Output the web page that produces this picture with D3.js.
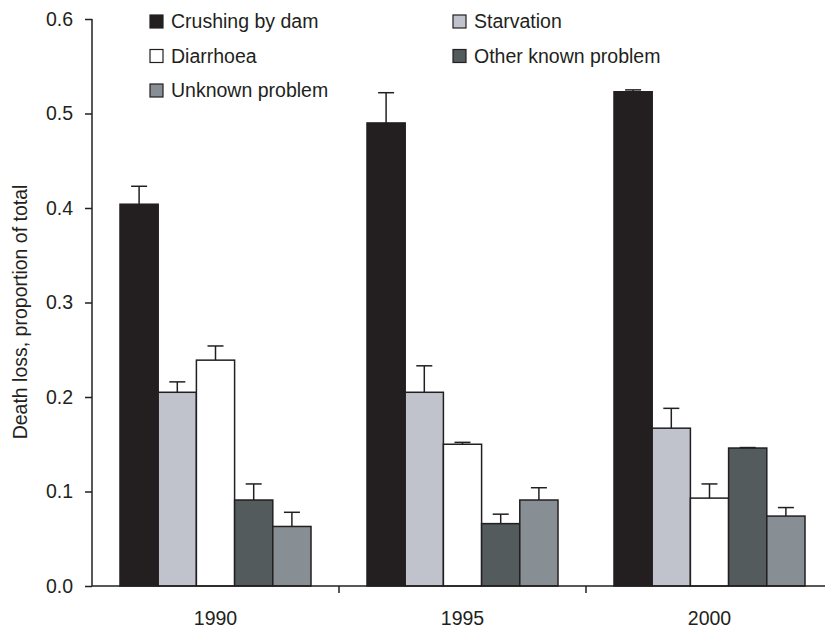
<!DOCTYPE html>
<html>
<head>
<meta charset="utf-8">
<script src="https://cdn.jsdelivr.net/npm/d3@7"></script>
<style>
  body { margin: 0; background: #fff; }
  text { font-family: "Liberation Sans", Arial, sans-serif; fill: #231f20; }
</style>
</head>
<body>
<div id="chart"></div>
<script>
// the data
const years = ["1990", "1995", "2000"];
const causes = ["Crushing by dam", "Starvation", "Diarrhoea", "Other known problem", "Unknown problem"];
const causeColors = ["#231f20", "#c0c3cb", "#ffffff", "#535b5c", "#878f95"];

// mean proportion per cause, one array per year
const values1990 = [0.404, 0.205, 0.239, 0.091, 0.063];
const values1995 = [0.490, 0.205, 0.150, 0.066, 0.091];
const values2000 = [0.523, 0.167, 0.093, 0.146, 0.074];

// top of the error bar per cause
const errTop1990 = [0.423, 0.216, 0.254, 0.108, 0.078];
const errTop1995 = [0.522, 0.233, 0.152, 0.076, 0.104];
const errTop2000 = [0.525, 0.188, 0.108, 0.1465, 0.083];

const yTicks = [0, 0.1, 0.2, 0.3, 0.4, 0.5, 0.6];

const values = [values1990, values1995, values2000];
const errTops = [errTop1990, errTop1995, errTop2000];

let rows = [];
years.forEach(function (year, i) {
    causes.forEach(function (cause, j) {
        rows.push({ year: year, cause: cause, value: values[i][j], err: errTops[i][j] });
    });
});

const width = 825, height = 629;
const ink = "#231f20";
const fontSize = "19.5px";

let svg = d3.select("#chart").append("svg")
    .attr("width", width)
    .attr("height", height);

let y = d3.scaleLinear().domain([0, 0.6]).range([586, 19]);

let x = d3.scaleBand().domain(years).range([92, 833]);

let xInner = d3.scaleBand().domain(causes).range([28, x.bandwidth() - 28]);

let color = d3.scaleOrdinal().domain(causes).range(causeColors);

// bars
let groups = svg.append("g")
    .selectAll("g")
    .data(years)
    .enter().append("g")
    .attr("transform", function (d) { return "translate(" + x(d) + ",0)"; });

groups.selectAll("rect")
    .data(function (d) { return rows.filter(r => r.year == d); })
    .enter().append("rect")
    .attr("x", d => xInner(d.cause))
    .attr("y", d => y(d.value))
    .attr("width", xInner.bandwidth())
    .attr("height", d => y(0) - y(d.value))
    .attr("fill", d => color(d.cause))
    .attr("stroke", ink)
    .attr("stroke-width", 1.5);

// error bars
let err = groups.selectAll("g.err")
    .data(function (d) { return rows.filter(r => r.year == d); })
    .enter().append("g")
    .attr("class", "err")
    .attr("stroke", ink)
    .attr("stroke-width", 1.5);

err.append("line")
    .attr("x1", d => xInner(d.cause) + xInner.bandwidth() / 2)
    .attr("x2", d => xInner(d.cause) + xInner.bandwidth() / 2)
    .attr("y1", d => y(d.value))
    .attr("y2", d => y(d.err));

err.append("line")
    .attr("x1", d => xInner(d.cause) + xInner.bandwidth() / 2 - 8)
    .attr("x2", d => xInner(d.cause) + xInner.bandwidth() / 2 + 8)
    .attr("y1", d => y(d.err))
    .attr("y2", d => y(d.err));

// y axis
let yAxis = svg.append("g")
    .attr("transform", "translate(92,0)")
    .call(d3.axisLeft(y).tickValues(yTicks).tickFormat(d3.format(".1f")).tickSize(7).tickPadding(12));

yAxis.select(".domain").attr("d", "M0," + y(0.6) + "V" + y(0));

// x axis: line, ticks between the groups, year labels in the middle
let xAxis = svg.append("g").attr("transform", "translate(0," + y(0) + ")");

xAxis.append("line")
    .attr("x1", 92).attr("x2", width)
    .attr("y1", 0).attr("y2", 0);

xAxis.selectAll("line.tick")
    .data(years)
    .enter().append("line")
    .attr("class", "tick")
    .attr("x1", d => x(d) + x.bandwidth())
    .attr("x2", d => x(d) + x.bandwidth())
    .attr("y1", 0).attr("y2", 7);

xAxis.selectAll("line").attr("stroke", ink).attr("stroke-width", 1.5);

xAxis.selectAll("text")
    .data(years)
    .enter().append("text")
    .attr("x", d => x(d) + x.bandwidth() / 2)
    .attr("y", 39)
    .attr("text-anchor", "middle")
    .style("font-size", fontSize)
    .text(d => d);

svg.selectAll(".domain, .tick line").attr("stroke", ink).attr("stroke-width", 1.5);
yAxis.selectAll("text").style("font-size", fontSize).attr("fill", ink);

// y label
svg.append("text")
    .attr("transform", "translate(27,312) rotate(-90)")
    .attr("text-anchor", "middle")
    .style("font-size", fontSize)
    .text("Death loss, proportion of total");

// legend, two columns
let legendPos = [[150, 15], [453, 15], [150, 49.5], [453, 49.5], [150, 84]];

let legend = svg.append("g")
    .selectAll("g")
    .data(causes)
    .enter().append("g")
    .attr("transform", (d, i) => "translate(" + legendPos[i][0] + "," + legendPos[i][1] + ")");

legend.append("rect")
    .attr("width", 13)
    .attr("height", 13)
    .attr("fill", d => color(d))
    .attr("stroke", ink)
    .attr("stroke-width", 1.2);

legend.append("text")
    .attr("x", 21)
    .attr("y", 13)
    .style("font-size", fontSize)
    .text(d => d);
</script>
</body>
</html>
